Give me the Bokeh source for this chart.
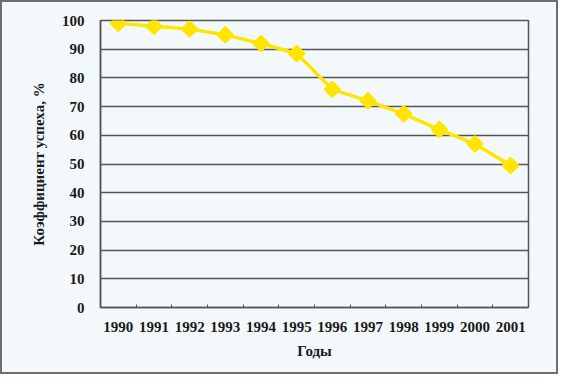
import math
from bokeh.plotting import figure
from bokeh.models import FixedTicker, Range1d
from bokeh.embed import file_html
from bokeh.resources import INLINE

years = [1990, 1991, 1992, 1993, 1994, 1995, 1996, 1997, 1998, 1999, 2000, 2001]
success = [99, 98, 97, 95, 92, 88.5, 76, 72, 67.5, 62, 57, 49.5]
y_ticks = list(range(0, 101, 10))

FONT = "'Liberation Serif', 'DejaVu Serif', serif"
BG = "#f3f8fa"
GRID = "#555555"

p = figure(width=558, height=374, output_backend="svg", toolbar_location=None,
           x_range=Range1d(years[0] - 0.5, years[-1] + 0.5), y_range=Range1d(0, 100),
           min_border_left=98, min_border_right=32, min_border_top=18, min_border_bottom=69)
p.styles = {"border": "2px solid #6e6e6e"}
p.background_fill_color = BG
p.border_fill_color = BG
p.outline_line_color = GRID
p.outline_line_width = 1.5

p.xgrid.grid_line_color = None
p.ygrid.ticker = FixedTicker(ticks=y_ticks)
p.ygrid.grid_line_color = GRID
p.ygrid.grid_line_width = 1.5

p.xaxis.ticker = FixedTicker(ticks=years, minor_ticks=[y + 0.5 for y in years[:-1]])
p.yaxis.ticker = FixedTicker(ticks=y_ticks)
for ax in (p.xaxis[0], p.yaxis[0]):
    ax.major_label_text_font = FONT
    ax.major_label_text_font_style = "bold"
    ax.major_label_text_font_size = "15px"
    ax.major_label_text_color = "#1a1a1a"
    ax.axis_label_text_font = FONT
    ax.axis_label_text_font_style = "bold"
    ax.axis_label_text_font_size = "15px"
    ax.axis_label_text_color = "#1a1a1a"
    ax.axis_line_color = GRID
    ax.axis_line_width = 1.5
    ax.major_tick_line_color = None
p.xaxis.minor_tick_line_color = GRID
p.xaxis.minor_tick_in = 3
p.xaxis.minor_tick_out = 0
p.yaxis.minor_tick_line_color = None
p.xaxis.major_label_standoff = 8
p.yaxis.major_label_standoff = 10
p.xaxis.axis_label = "Годы"
p.yaxis.axis_label = "Коэффициент успеха, %"
p.xaxis.axis_label_standoff = 8
p.yaxis.axis_label_standoff = 12

p.line(years, success, line_color="#ffe500", line_width=3.5)
p.scatter(years, success, marker="square", size=11, angle=math.pi / 4,
          fill_color="#ffe500", line_color="#ffe500", line_width=2)

open("out.html", "w").write(file_html(p, INLINE))
